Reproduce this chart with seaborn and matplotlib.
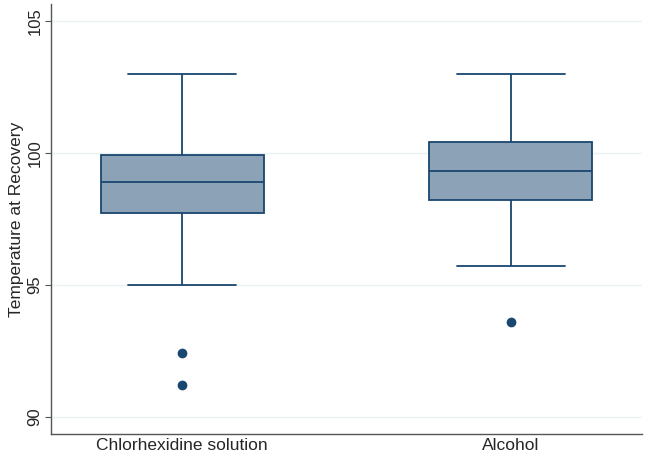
import pandas as pd
import matplotlib
matplotlib.use("Agg")
import matplotlib.pyplot as plt
import seaborn as sns

# temperatures (chosen so the quartiles, whiskers and outliers match)
groups = ["Chlorhexidine solution", "Alcohol"]
chlorhexidine = [91.2, 92.4, 95.0, 97.7, 98.2, 98.6, 98.9, 99.2, 99.6, 99.9, 100.5, 101.8, 103.0]
alcohol = [93.6, 95.7, 96.8, 98.2, 98.6, 99.0, 99.3, 99.7, 100.0, 100.4, 101.0, 102.0, 103.0]
yticks = [90, 95, 100, 105]

df = pd.DataFrame({
    "group": [groups[0]] * len(chlorhexidine) + [groups[1]] * len(alcohol),
    "temp": chlorhexidine + alcohol,
})

navy = "#1A476F"
fill = "#8CA3B7"

sns.set_theme(style="white")
plt.rcParams['font.family'] = ['Liberation Sans', 'DejaVu Sans']

fig = plt.figure(figsize=(6.46, 4.57), dpi=100)
ax = fig.add_axes([0.079, 0.0503, 0.915, 0.9407])

sns.boxplot(data=df, x="group", y="temp", order=groups, ax=ax,
            color=fill, width=0.496, whis=1.5, linewidth=1.3, linecolor=navy,
            capwidths=0.33,
            flierprops=dict(marker="o", markersize=6, markerfacecolor=navy,
                            markeredgecolor=navy),
            medianprops=dict(color=navy, linewidth=1.3),
            boxprops=dict(facecolor=fill, edgecolor=navy),
            zorder=3)

ax.set_ylim(89.34, 105.63)
ax.set_xlim(-0.399, 1.399)
ax.set_yticks(yticks)
ax.set_yticklabels([str(t) for t in yticks], rotation=90, va="center")
for t in yticks:
    ax.axhline(t, color="#EAF2F3", linewidth=1, zorder=0)

ax.set_xlabel("")
ax.set_ylabel("Temperature at Recovery", fontsize=12.5, labelpad=3)
ax.tick_params(axis="y", left=True, length=4, width=0.8, color="#555555",
               labelsize=12, pad=2)
ax.tick_params(axis="x", bottom=False, length=0, labelsize=12.5, pad=3)

for s in ["top", "right"]:
    ax.spines[s].set_visible(False)
for s in ["left", "bottom"]:
    ax.spines[s].set_color("#555555")
    ax.spines[s].set_linewidth(1.0)

fig.savefig("out.png", dpi=100)
